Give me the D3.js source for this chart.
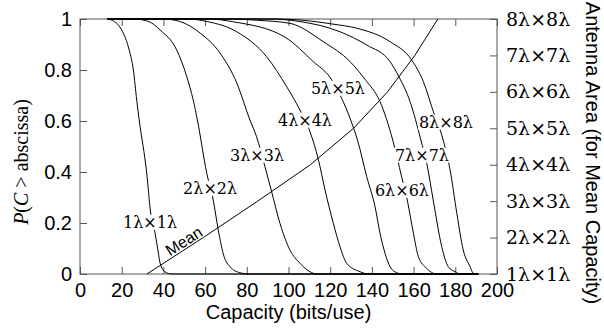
<!DOCTYPE html>
<html>
<head>
<meta charset="utf-8">
<script src="https://cdn.jsdelivr.net/npm/d3@7/dist/d3.min.js"></script>
<style>
    body { margin: 0; background: #fff; }
    #chart-area { width: 604px; height: 329px; }
    .frame { fill: none; stroke: #555; stroke-width: 1; }
    .curve { fill: none; stroke: #000; stroke-width: 1; }
    .axis path { display: none; }
    .axis line { stroke: #555; }
    .axis text { font-family: "Liberation Sans", Arial, sans-serif; font-size: 20px; fill: #000; }
    .axis-right text { font-family: "DejaVu Serif", serif; font-size: 19px; }
    .title { font-family: "Liberation Sans", Arial, sans-serif; font-size: 20px; fill: #000; }
    .curve-label { font-family: "DejaVu Serif", serif; font-size: 16px; fill: #000; }
</style>
</head>
<body>
<div id="chart-area"></div>
<script>

// axis ticks
const capTicks = [0, 20, 40, 60, 80, 100, 120, 140, 160, 180, 200];
const probTicks = [0, 0.2, 0.4, 0.6, 0.8, 1];
const sideTicks = [1, 2, 3, 4, 5, 6, 7, 8];

// CCDF of capacity for each antenna size: [capacity, P(C > capacity)]
const ccdf1 = [[13,1],[16.5,0.99],[20,0.957],[23.6,0.878],[25.6,0.8],[27.2,0.682],[28.4,0.604],[32,0.396],[33.9,0.239],[36,0.16],[37.6,0.082],[38.4,0.043],[40.8,0.008],[44,0],[191,0]];
const ccdf2 = [[13,1],[26,1],[33,0.99],[38.4,0.957],[46.4,0.878],[51.2,0.774],[54.3,0.682],[56.3,0.604],[60.8,0.395],[63.9,0.29],[66.3,0.173],[69.1,0.068],[71.9,0.029],[76.7,0.005],[80.7,0],[191,0]];
const ccdf3 = [[13,1],[40,1],[48,0.99],[57.6,0.945],[67.1,0.867],[75.2,0.749],[81.5,0.604],[84.7,0.538],[88.7,0.421],[91.9,0.323],[95.9,0.199],[100.7,0.094],[105.5,0.042],[110.3,0.009],[113.5,0],[191,0]];
const ccdf4 = [[13,1],[52,1],[61,0.99],[75.2,0.95],[89.5,0.852],[99.1,0.735],[105.5,0.643],[110.3,0.558],[114.3,0.45],[117.5,0.33],[121.5,0.199],[124.7,0.107],[127.9,0.042],[134.3,0.009],[138.1,0],[191,0]];
const ccdf5 = [[13,1],[62,1],[73.5,0.989],[98.3,0.929],[112,0.832],[120,0.77],[125.5,0.689],[129.5,0.611],[133.1,0.525],[137.5,0.382],[141.5,0.264],[143.9,0.16],[146.3,0.081],[148.7,0.029],[151.9,0.005],[154.4,0],[191,0]];
const ccdf6 = [[13,1],[72,1],[85,0.995],[100.7,0.983],[116.7,0.911],[129.5,0.833],[137,0.76],[143.9,0.676],[150,0.525],[154.3,0.38],[157.2,0.28],[159.9,0.16],[162.3,0.068],[166.3,0.022],[169.4,0.003],[171.2,0],[191,0]];
const ccdf7 = [[13,1],[90,1],[105.5,0.99],[124.7,0.95],[137.5,0.898],[148.7,0.833],[153,0.773],[158.3,0.676],[163.5,0.525],[166.3,0.434],[169.4,0.29],[173.5,0.107],[176.6,0.029],[179.9,0.009],[182.3,0],[191,0]];
const ccdf8 = [[13,1],[95,1],[105.5,0.996],[121.3,0.98],[132.7,0.964],[148.7,0.911],[159.1,0.839],[164.7,0.754],[169.5,0.636],[174.2,0.525],[177.5,0.408],[180.7,0.24],[183.8,0.094],[187.1,0.029],[188.6,0.003],[191,0]];

// where each curve label sits (capacity, probability)
const labelCap = [33.6, 62.4, 84.9, 107.9, 123.7, 154.4, 164.0, 175.5];
const labelProb = [0.204, 0.337, 0.467, 0.604, 0.729, 0.329, 0.467, 0.596];

// mean capacity for each antenna side (right axis)
const meanCap = [32.1, 59.1, 85.2, 110.5, 131.2, 147.5, 160.6, 171.6];


class CapacityVis {

    constructor(parentElement) {
        this.parentElement = parentElement;
        this.curves = [ccdf1, ccdf2, ccdf3, ccdf4, ccdf5, ccdf6, ccdf7, ccdf8];
        this.initVis();
    }

    initVis() {
        let vis = this;

        vis.margin = {top: 19, right: 107, bottom: 55, left: 80};
        vis.width = 604 - vis.margin.left - vis.margin.right;
        vis.height = 329 - vis.margin.top - vis.margin.bottom;

        vis.svg = d3.select("#" + vis.parentElement).append("svg")
            .attr("width", 604)
            .attr("height", 329);

        vis.g = vis.svg.append("g")
            .attr("transform", `translate(${vis.margin.left},${vis.margin.top})`);

        // scales
        vis.x = d3.scaleLinear().domain([0, 200]).range([0, vis.width]);
        vis.y = d3.scaleLinear().domain([0, 1]).range([vis.height, 0]);
        vis.ySide = d3.scaleLinear().domain([1, 8]).range([vis.height, 0]);

        // frame
        vis.g.append("rect")
            .attr("class", "frame")
            .attr("x", 0)
            .attr("y", 0)
            .attr("width", vis.width)
            .attr("height", vis.height);

        // axes, ticks point inward
        vis.g.append("g")
            .attr("class", "axis")
            .attr("transform", `translate(0,${vis.height})`)
            .call(d3.axisBottom(vis.x).tickValues(capTicks).tickSize(-7).tickPadding(9));

        vis.g.append("g")
            .attr("class", "axis")
            .call(d3.axisTop(vis.x).tickValues(capTicks).tickSize(-7).tickFormat(""));

        vis.g.append("g")
            .attr("class", "axis")
            .call(d3.axisLeft(vis.y).tickValues(probTicks).tickSize(-7).tickPadding(8)
                .tickFormat(d => String(d)));

        vis.g.append("g")
            .attr("class", "axis axis-right")
            .attr("transform", `translate(${vis.width},0)`)
            .call(d3.axisRight(vis.ySide).tickValues(sideTicks).tickSize(-7).tickPadding(9)
                .tickFormat(d => `${d}λ×${d}λ`));

        // axis titles
        vis.svg.append("text")
            .attr("class", "title")
            .attr("x", vis.margin.left + vis.width / 2)
            .attr("y", 319)
            .attr("text-anchor", "middle")
            .text("Capacity (bits/use)");

        let yTitle = vis.svg.append("text")
            .attr("transform", "translate(28,162) rotate(-90)")
            .attr("text-anchor", "middle")
            .style("font-family", '"Liberation Serif", serif')
            .style("font-size", "20px");
        yTitle.append("tspan").style("font-style", "italic").text("P");
        yTitle.append("tspan").text("(");
        yTitle.append("tspan").style("font-style", "italic").text("C");
        yTitle.append("tspan").text(" > abscissa)");

        vis.svg.append("text")
            .attr("class", "title")
            .attr("transform", "translate(586,153) rotate(90)")
            .attr("text-anchor", "middle")
            .text("Antenna Area (for Mean Capacity)");

        vis.updateVis();
    }

    updateVis() {
        let vis = this;

        let line = d3.line()
            .x(d => vis.x(d[0]))
            .y(d => vis.y(d[1]))
            .curve(d3.curveMonotoneX);

        // ccdf curves
        vis.g.selectAll(".curve")
            .data(vis.curves)
            .enter().append("path")
            .attr("class", "curve")
            .attr("d", line);

        // mean capacity line against right axis
        let meanLine = d3.line()
            .x(d => vis.x(d))
            .y((d, i) => vis.ySide(sideTicks[i]));

        vis.g.append("path")
            .attr("class", "curve")
            .attr("d", meanLine(meanCap));

        // "Mean" text along the first segment
        let x0 = vis.x(meanCap[0]), y0 = vis.ySide(1);
        let x1 = vis.x(meanCap[1]), y1 = vis.ySide(2);
        let angle = Math.atan2(y1 - y0, x1 - x0) * 180 / Math.PI;
        let mx = vis.x(51.8);
        let my = y0 + (mx - x0) * (y1 - y0) / (x1 - x0);
        vis.g.append("text")
            .attr("transform", `translate(${mx},${my}) rotate(${angle})`)
            .attr("text-anchor", "middle")
            .attr("dy", -2)
            .style("font-family", '"Liberation Sans", Arial, sans-serif')
            .style("font-size", "16px")
            .text("Mean");

        // curve labels on white boxes
        sideTicks.forEach((s, i) => {
            let lg = vis.g.append("g")
                .attr("transform", `translate(${vis.x(labelCap[i])},${vis.y(labelProb[i])})`);
            let rect = lg.append("rect").attr("fill", "#fff");
            let t = lg.append("text")
                .attr("class", "curve-label")
                .attr("text-anchor", "middle")
                .attr("dy", "0.36em")
                .text(`${s}λ×${s}λ`);
            let bb = t.node().getBBox();
            rect.attr("x", bb.x - 1)
                .attr("y", bb.y + 2)
                .attr("width", bb.width + 2)
                .attr("height", bb.height - 4);
        });
    }
}

new CapacityVis("chart-area");

</script>
</body>
</html>
